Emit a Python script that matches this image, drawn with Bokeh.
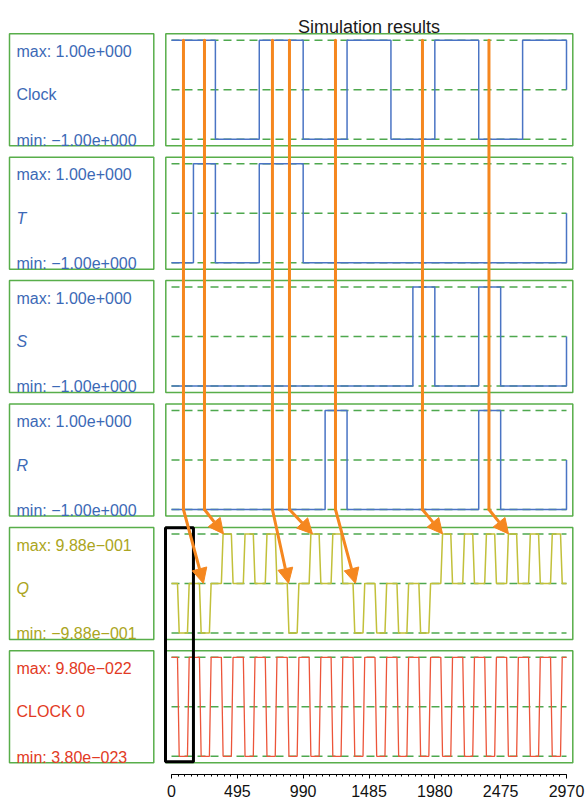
from bokeh.plotting import figure
from bokeh.models import Range1d, LinearAxis, FixedTicker, Arrow, NormalHead
from bokeh.core.properties import value
from bokeh.embed import file_html
from bokeh.resources import INLINE

# ---------------- data ----------------
t_end = 2970
x_ticks = [0, 495, 990, 1485, 1980, 2475, 2970]

# step signals: value holds from t[i] to t[i+1]
clock_t = [0, 330, 660, 990, 1320, 1650, 1980, 2310, 2640, 2970]
clock_v = [1, -1, 1, -1, 1, -1, 1, -1, 1, 0]
T_t = [0, 165, 330, 660, 990, 2970]
T_v = [-1, 1, -1, 1, -1, 0]
S_t = [0, 1815, 1980, 2310, 2475, 2970]
S_v = [-1, 1, -1, 1, -1, 0]
R_t = [0, 1155, 1320, 2310, 2475, 2970]
R_v = [-1, 1, -1, 1, -1, 0]

# fast clock (CLOCK 0): low windows
clock0_low_start = [45, 210, 375, 540, 705, 870, 1035, 1200, 1365, 1530,
                    1695, 1860, 2025, 2190, 2355, 2520, 2685, 2850]
clock0_low_end = [120, 285, 450, 615, 780, 945, 1110, 1275, 1440, 1605,
                  1770, 1935, 2100, 2265, 2430, 2595, 2760, 2925]
clock0_max = 9.80e-22
clock0_min = 3.80e-23
edge_time = 13

# Q pulses (sign of the pulse in each CLOCK 0 low window)
q_pulse = [-1, -1, 1, 1, 1, -1, 1, 1, -1, -1, -1, -1, 1, 1, 1, 1, 1, 1]
q_amp = 0.988

# orange arrows: event time in the Clock row -> target in Q row
arrow_from = [90, 248, 759, 887, 1233, 1887, 2387]
arrow_to = [240, 391, 880, 1060, 1383, 2038, 2534]
arrow_to_q = [0, 0.988, 0, 0.988, 0, 0.988, 0.988]

# highlight window
window_t = [-45, 165]

names = ["Clock", "T", "S", "R", "Q", "CLOCK 0"]
italic = [False, True, True, True, True, False]
max_labels = ["max: 1.00e+000", "max: 1.00e+000", "max: 1.00e+000",
              "max: 1.00e+000", "max: 9.88e\u2212001", "max: 9.80e\u2212022"]
min_labels = ["min: \u22121.00e+000", "min: \u22121.00e+000", "min: \u22121.00e+000",
              "min: \u22121.00e+000", "min: \u22129.88e\u2212001", "min: 3.80e\u2212023"]

# ---------------- layout / style ----------------
FIG_W, FIG_H = 586, 803
FRAME_BOTTOM = 774
PX0 = 171.0
PX_PER_T = 395.0 / 2970.0


def tx(px):
    return (px - PX0) / PX_PER_T


BOX_TOP0 = 33.3
PITCH = 123.4
BOX_H = 112
MID_OFF = 56.0
HALF = 49.5

BLUE_LINE = "#4A74C4"
BLUE_TEXT = "#3C69B6"
Q_LINE = "#C2C03A"
Q_TEXT = "#ABA521"
C0_LINE = "#EC553A"
C0_TEXT = "#E23A24"
GREEN = "#58AE4A"
GREEN_DASH = "#4EA84E"
ORANGE = "#F5871F"
line_colors = [BLUE_LINE] * 4 + [Q_LINE, C0_LINE]
text_colors = [BLUE_TEXT] * 4 + [Q_TEXT, C0_TEXT]
FONT = "Liberation Sans"

p = figure(width=FIG_W, height=FIG_H, output_backend="svg", toolbar_location=None,
           x_axis_type=None, y_axis_type=None,
           x_range=Range1d(tx(0), tx(FIG_W)),
           y_range=Range1d(FRAME_BOTTOM, 0),
           min_border_left=0, min_border_right=0, min_border_top=0,
           min_border_bottom=FIG_H - FRAME_BOTTOM)
p.outline_line_color = None
p.background_fill_color = "white"
p.border_fill_color = "white"


def box_top(i):
    return BOX_TOP0 + PITCH * i


def y_of(i, v):
    return box_top(i) + MID_OFF - v * HALF


# boxes
for i in range(6):
    bt = box_top(i)
    p.quad(left=tx(9), right=tx(153.3), top=bt, bottom=bt + BOX_H,
           fill_color=None, line_color=GREEN, line_width=1.5)
    p.quad(left=tx(165.3), right=tx(572.3), top=bt, bottom=bt + BOX_H,
           fill_color=None, line_color=GREEN, line_width=1.5)

# dashed reference lines
xs, ys = [], []
for i in range(6):
    for v in (1, 0, -1):
        xs.append([0, t_end])
        ys.append([y_of(i, v), y_of(i, v)])
p.multi_line(xs, ys, line_color=GREEN_DASH, line_width=1.5, line_dash="8 5")

# step signals
for i, (tt, vv) in enumerate([(clock_t, clock_v), (T_t, T_v), (S_t, S_v), (R_t, R_v)]):
    p.step(tt, [y_of(i, v) for v in vv], mode="after",
           line_color=line_colors[i], line_width=1.5)

# Q and CLOCK 0 series built from the windows
q_t, q_v = [0], [0.0]
c_t, c_v = [0], [clock0_max]
for a, b, s in zip(clock0_low_start, clock0_low_end, q_pulse):
    q_t += [a, a + edge_time, b, b + edge_time]
    q_v += [0.0, s * q_amp, s * q_amp, 0.0]
    c_t += [a, a + edge_time, b, b + edge_time]
    c_v += [clock0_max, clock0_min, clock0_min, clock0_max]
q_t.append(t_end); q_v.append(0.0)
c_t.append(t_end); c_v.append(clock0_max)

p.line(q_t, [y_of(4, v / q_amp) for v in q_v], line_color=Q_LINE, line_width=1.5)
p.line(c_t, [y_of(5, (v - clock0_min) / (clock0_max - clock0_min) * 2 - 1) for v in c_v],
       line_color=C0_LINE, line_width=1.3)

# texts
for i in range(6):
    bt = box_top(i)
    p.text(x=[tx(16)], y=[bt + 17.7], text=[max_labels[i]], text_color=text_colors[i],
           text_font=value(FONT), text_font_size="16px", text_baseline="alphabetic")
    p.text(x=[tx(16)], y=[bt + 61], text=[names[i]], text_color=text_colors[i],
           text_font=value(FONT), text_font_size="16px", text_baseline="alphabetic",
           text_font_style="italic" if italic[i] else "normal")
    p.text(x=[tx(16)], y=[bt + 106.3], text=[min_labels[i]], text_color=text_colors[i],
           text_font=value(FONT), text_font_size="16px", text_baseline="alphabetic")

p.text(x=[tx(368.5)], y=[26.5], text=["Simulation results"], text_color="#1a1a1a",
       text_font=value(FONT), text_font_size="18px", text_align="center",
       text_baseline="alphabetic")

# highlight window (black rectangle)
p.quad(left=window_t[0], right=window_t[1], top=527.3, bottom=761.3,
       fill_color=None, line_color="black", line_width=3)

# orange arrows
y_start = y_of(0, 1)
y_bend = y_of(3, -1)
p.multi_line([[t, t] for t in arrow_from], [[y_start, y_bend] for _ in arrow_from],
             line_color=ORANGE, line_width=3, line_cap="round")
for a, b, q in zip(arrow_from, arrow_to, arrow_to_q):
    p.add_layout(Arrow(x_start=a, y_start=y_bend, x_end=b, y_end=y_of(4, q / q_amp),
                       line_color=ORANGE, line_width=3, line_cap="round",
                       end=NormalHead(size=15, fill_color=ORANGE, line_color=ORANGE)))

# x axis
ax = LinearAxis(ticker=FixedTicker(ticks=x_ticks, minor_ticks=[i * 49.5 for i in range(61)]),
                bounds=(0, t_end))
ax.axis_line_color = "black"
ax.axis_line_width = 1
ax.major_tick_in = 0
ax.major_tick_out = 4
ax.minor_tick_in = 0
ax.minor_tick_out = 2
ax.major_label_standoff = 6
ax.major_label_text_font = FONT
ax.major_label_text_font_size = "16px"
ax.major_label_text_color = "#111111"
p.add_layout(ax, "below")

open("out.html", "w").write(file_html(p, INLINE))
